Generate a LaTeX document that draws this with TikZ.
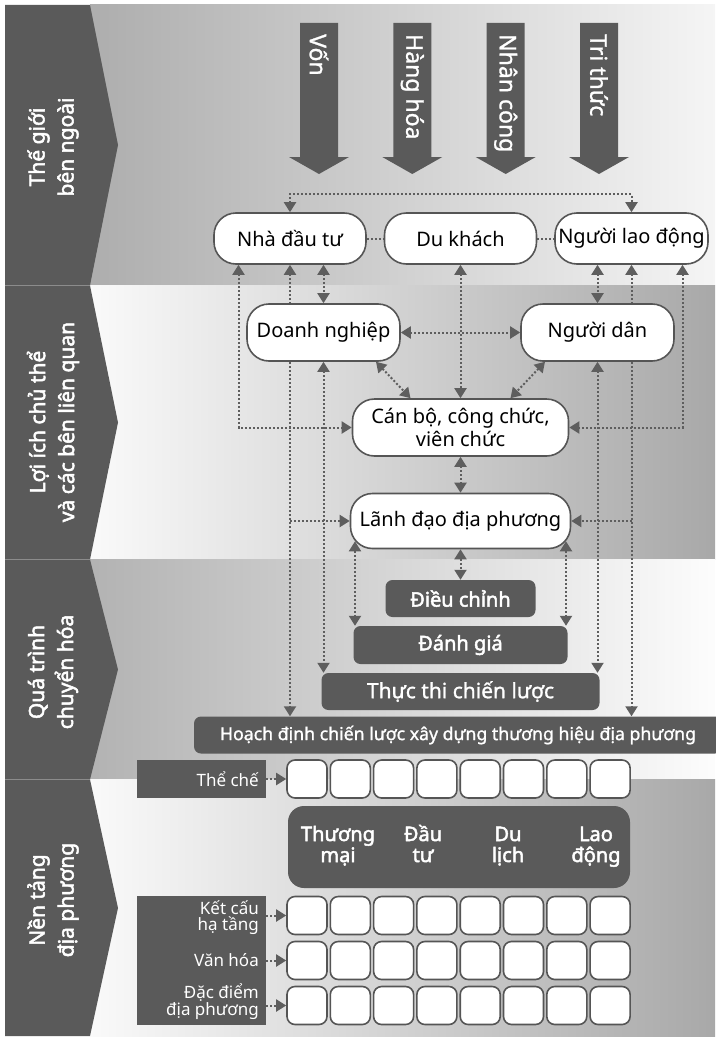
\documentclass[tikz,border=0pt]{standalone}
\usepackage{fontspec}
\setmainfont{Noto Sans}
\newfontfamily\fbold[FakeBold=2.4]{Noto Sans}
\newfontfamily\fmed[FakeBold=1.2]{Noto Sans}
\usetikzlibrary{arrows.meta}
\definecolor{darkc}{HTML}{5A5A5A}
\definecolor{edgec}{HTML}{555555}
\definecolor{dotc}{HTML}{5E5E5E}
\pgfdeclarelayer{bg}
\pgfdeclarelayer{conn}
\pgfsetlayers{bg,conn,main}
\begin{document}
\begin{tikzpicture}[x=1pt,y=-1pt,
  >={Triangle[length=10pt,width=12pt]},
  dd/.style={draw=dotc, line width=2pt, dash pattern=on 2pt off 2pt},
  wnode/.style={draw=edgec, line width=1.6pt, fill=white, rounded corners=22pt, inner sep=0pt,
    font=\fontsize{20}{23}\selectfont, text=black},
  dbox/.style={fill=darkc, rounded corners=7pt, inner sep=0pt, text=white},
  cell/.style={draw=edgec, line width=1.6pt, fill=white, rounded corners=8pt,
    minimum width=40pt, minimum height=38pt, inner sep=0pt},
  side/.style={rotate=90, align=center, text=white, inner sep=0pt,
    font=\fbold\fontsize{21}{29}\selectfont},
  flow/.style={rotate=-90, anchor=west, text=white, inner sep=0pt,
    font=\fmed\fontsize{23}{26}\selectfont},
  lt/.style={anchor=base east, text=white, inner sep=0pt,
    font=\fontsize{17}{17}\selectfont},
  hd/.style={anchor=base, text=white, inner sep=0pt,
    font=\fbold\fontsize{20}{22}\selectfont}
]
\useasboundingbox (0,0) rectangle (715,1041);

% ---------- bands ----------
\begin{pgfonlayer}{bg}
  \shade[left color=black!32, right color=black!4] (90,5) rectangle (715,285.5);
  \shade[left color=black!2, right color=black!34] (90,285.5) rectangle (715,559.5);
  \shade[left color=black!30, right color=black!1] (90,559.5) rectangle (715,779.5);
  \shade[left color=black!2, right color=black!34] (90,779.5) rectangle (715,1036);
  \fill[darkc] (5,5) -- (90,5) -- (118,145) -- (90,285.5) -- (5,285.5) -- cycle;
  \fill[darkc] (5,285.5) -- (90,285.5) -- (118,422.5) -- (90,559.5) -- (5,559.5) -- cycle;
  \fill[darkc] (5,559.5) -- (90,559.5) -- (118,669.5) -- (90,779.5) -- (5,779.5) -- cycle;
  \fill[darkc] (5,779.5) -- (90,779.5) -- (118,908) -- (90,1036) -- (5,1036) -- cycle;
  \draw[black!45, line width=0.8pt] (5,285.5) -- (90,285.5) (5,559.5) -- (90,559.5) (5,779.5) -- (90,779.5);
\end{pgfonlayer}

\node[side] (s1) at (53,147) {Thế giới\\bên ngoài};
\node[side] (s2) at (53,422) {Lợi ích chủ thể\\và các bên liên quan};
\node[side] (s3) at (53,672) {Quá trình\\chuyển hóa};
\node[side] (s4) at (53,900) {Nền tảng\\địa phương};

% ---------- big inflow arrows ----------
\foreach \cx/\lab [count=\i] in {319/Vốn, 412.3/Hàng hóa, 505.7/Nhân công, 599/Tri thức} {
  \fill[darkc] (\cx-19,23) -- (\cx+19,23) -- (\cx+19,157) -- (\cx+30,157) -- (\cx,174)
     -- (\cx-30,157) -- (\cx-19,157) -- cycle;
  \node[flow] (f\i) at (\cx,34) {\lab};
}

% ---------- actor nodes ----------
\node[wnode, minimum width=152pt, minimum height=51pt] (inv) at (290,238.5) {Nhà đầu tư};
\node[wnode, minimum width=152pt, minimum height=51pt] (tour) at (460.5,238.5) {Du khách};
\node[wnode, minimum width=153pt, minimum height=51pt] (lab) at (631.5,238.5) {Người lao động};
\node[wnode, minimum width=153pt, minimum height=57pt] (biz) at (323.5,332.5) {Doanh nghiệp};
\node[wnode, minimum width=153pt, minimum height=57pt] (res) at (597.5,332.5) {Người dân};
\node[wnode, minimum width=216pt, minimum height=57pt, align=center] (off) at (460.5,427.5) {Cán bộ, công chức,\\viên chức};
\node[wnode, minimum width=220pt, minimum height=55pt] (lead) at (460.5,521) {Lãnh đạo địa phương};

% ---------- process boxes ----------
\node[dbox, minimum width=150pt, minimum height=37pt, font=\fbold\fontsize{20}{22}\selectfont] (adj) at (460.5,598.5) {Điều chỉnh};
\node[dbox, minimum width=214pt, minimum height=38pt, font=\fbold\fontsize{20}{22}\selectfont] (eval) at (460.5,645) {Đánh giá};
\node[dbox, minimum width=278pt, minimum height=37pt, font=\fmed\fontsize{21}{24}\selectfont] (impl) at (460.5,691.5) {Thực thi chiến lược};
\node[dbox, minimum width=528pt, minimum height=37pt, font=\fmed\fontsize{17.7}{22}\selectfont] (plan) at (458,735) {Hoạch định chiến lược xây dựng thương hiệu địa phương};

% ---------- foundation grid ----------
\node[dbox, rounded corners=0pt, minimum width=129pt, minimum height=38pt] (lbl1) at (201.5,779) {};
\node[dbox, rounded corners=0pt, minimum width=129pt, minimum height=129pt] (lbl2) at (201.5,960.5) {};
\node[lt] (t1) at (259,786) {Thể chế};
\node[lt] (t2a) at (259,914) {Kết cấu};
\node[lt] (t2b) at (259,930.5) {hạ tầng};
\node[lt] (t3) at (259,966.5) {Văn hóa};
\node[lt] (t4a) at (259,998) {Đặc điểm};
\node[lt] (t4b) at (259,1015) {địa phương};

\node[fill=darkc, rounded corners=16pt, minimum width=342pt, minimum height=82pt, inner sep=0pt] (hdr) at (459,847) {};
\node[hd] (h1a) at (338,841) {Thương};
\node[hd] (h1b) at (338,862) {mại};
\node[hd] (h2a) at (423,841) {Đầu};
\node[hd] (h2b) at (423,862) {tư};
\node[hd] (h3a) at (508,841) {Du};
\node[hd] (h3b) at (508,862) {lịch};
\node[hd] (h4a) at (596,841) {Lao};
\node[hd] (h4b) at (596,862) {động};

\foreach \r/\yy in {1/779, 2/915.5, 3/960.5, 4/1005.5} {
  \foreach \c in {0,...,7} {
    \node[cell] (c\r\c) at ({307+43.3*\c},\yy) {};
  }
}

% ---------- connectors ----------
\coordinate (tl) at (460.5,194);
\coordinate (ll) at ([xshift=-105.5pt,yshift=8pt]lead.south);
\coordinate (lr) at ([xshift=105.5pt,yshift=8pt]lead.south);
\coordinate (io) at ([xshift=-51.5pt]inv.south);
\coordinate (lo) at ([xshift=51pt]lab.south);
\coordinate (bd) at ([xshift=52.5pt]biz.south);
\coordinate (rd) at ([xshift=-52.5pt]res.south);
\coordinate (od1) at ([xshift=-50pt]off.north);
\coordinate (od2) at ([xshift=50pt]off.north);
\begin{pgfonlayer}{conn}
  \draw[dd,<->] (inv.north) |- (tl) -| (lab.north);
  \draw[dd] (inv.east) -- (tour.west);
  \draw[dd] (tour.east) -- (lab.west);
  % left side
  \draw[dd,<->] (io) |- (off.west);
  \draw[dd,<->] (inv.south) -- (inv.south |- plan.north);
  \draw[dd,->] (inv.south |- lead.west) -- (lead.west);
  \draw[dd,<->] (biz.north |- inv.south) -- (biz.north);
  \draw[dd,<->] (biz.south) -- (biz.south |- impl.north);
  % right side
  \draw[dd,<->] (lo) |- (off.east);
  \draw[dd,<->] (lab.south) -- (lab.south |- plan.north);
  \draw[dd,->] (lab.south |- lead.east) -- (lead.east);
  \draw[dd,<->] (res.north |- lab.south) -- (res.north);
  \draw[dd,<->] (res.south) -- (res.south |- impl.north);
  % centre
  \draw[dd,<->] (tour.south) -- (off.north);
  \draw[dd,<->] (biz.east) -- (res.west);
  \draw[dd,<->] (bd) -- (od1);
  \draw[dd,<->] (rd) -- (od2);
  \draw[dd,<->] (off.south) -- (lead.north);
  \draw[dd,<->] (lead.south) -- (adj.north);
  \draw[dd,<->] (ll) -- (ll |- eval.north);
  \draw[dd,<->] (lr) -- (lr |- eval.north);
  % foundation arrows
  \draw[dd,->] (lbl1.east) -- (c10.west);
  \draw[dd,->] (lbl2.east |- c20.west) -- (c20.west);
  \draw[dd,->] (lbl2.east |- c30.west) -- (c30.west);
  \draw[dd,->] (lbl2.east |- c40.west) -- (c40.west);
\end{pgfonlayer}
\end{tikzpicture}
\end{document}
